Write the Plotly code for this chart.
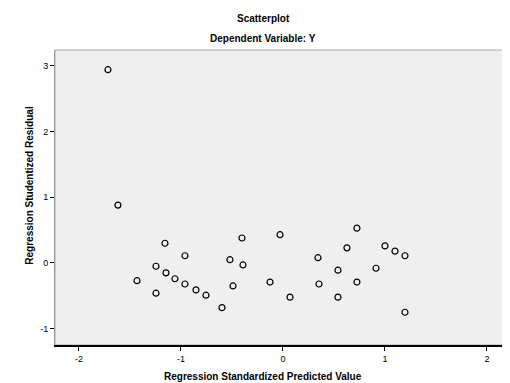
import plotly.graph_objects as go

predicted = [-1.716, -1.618, -1.431, -1.157, -0.961, -1.245, -1.147, -1.059, -0.961, -0.853,
             -0.755, -1.245, -0.598, -0.520, -0.392, -0.490, -0.402, -0.029, -0.127, 0.069,
             0.343, 0.539, 0.353, 0.725, 0.627, 0.725, 0.539, 0.912, 1.000, 1.098,
             1.196, 1.196]
residual = [2.94, 0.88, -0.27, 0.30, 0.11, -0.05, -0.15, -0.24, -0.32, -0.41,
            -0.49, -0.46, -0.68, 0.05, -0.03, -0.35, 0.38, 0.43, -0.29, -0.52,
            0.08, -0.11, -0.32, 0.53, 0.23, -0.29, -0.52, -0.08, 0.26, 0.18,
            0.11, -0.75]

x_ticks = [-2, -1, 0, 1, 2]
y_ticks = [-1, 0, 1, 2, 3]

fig = go.Figure()
fig.add_trace(go.Scatter(
    x=predicted, y=residual, mode="markers",
    marker=dict(symbol="circle-open", size=6, color="black", line=dict(width=1.2)),
    showlegend=False,
))

fig.update_layout(
    width=502, height=375,
    margin=dict(l=47, r=2, t=42, b=38, autoexpand=False),
    paper_bgcolor="white",
    plot_bgcolor="#efefef",
    font=dict(family="Liberation Sans, Arial, sans-serif", size=9, color="black"),
)
fig.add_annotation(text="<b>Scatterplot</b>", xref="paper", yref="paper",
                   x=0.46, y=1.0, yshift=32, yanchor="middle", showarrow=False, font=dict(size=10))
fig.add_annotation(text="<b>Dependent Variable: Y</b>", xref="paper", yref="paper",
                   x=0.46, y=1.0, yshift=12, yanchor="middle", showarrow=False, font=dict(size=10))
fig.add_annotation(text="<b>Regression Standardized Predicted Value</b>", xref="paper", yref="paper",
                   x=0.46, y=0, yshift=-31, yanchor="middle", showarrow=False, font=dict(size=10))
fig.add_annotation(text="<b>Regression Studentized Residual</b>", xref="paper", yref="paper",
                   x=0, xshift=-25, y=0.54, xanchor="center", yanchor="middle",
                   textangle=-90, showarrow=False, font=dict(size=10))

fig.update_xaxes(
    range=[-2.235, 2.206], tickvals=x_ticks, ticktext=[str(v) for v in x_ticks],
    showgrid=False, zeroline=False, showline=True, linecolor="black", linewidth=2,
    ticks="outside", ticklen=4, tickcolor="black", automargin=False,
)
fig.update_yaxes(
    range=[-1.248, 3.24], tickvals=y_ticks, ticktext=[str(v) for v in y_ticks],
    showgrid=False, zeroline=False, showline=True, linecolor="#999999", linewidth=1,
    ticks="outside", ticklen=4, tickcolor="black", automargin=False,
)
fig.add_shape(type="rect", xref="paper", yref="paper", x0=0, y0=0, x1=1, y1=1,
              line=dict(color="#aaaaaa", width=1), fillcolor="rgba(0,0,0,0)", layer="below")

fig.write_html("out.html")
